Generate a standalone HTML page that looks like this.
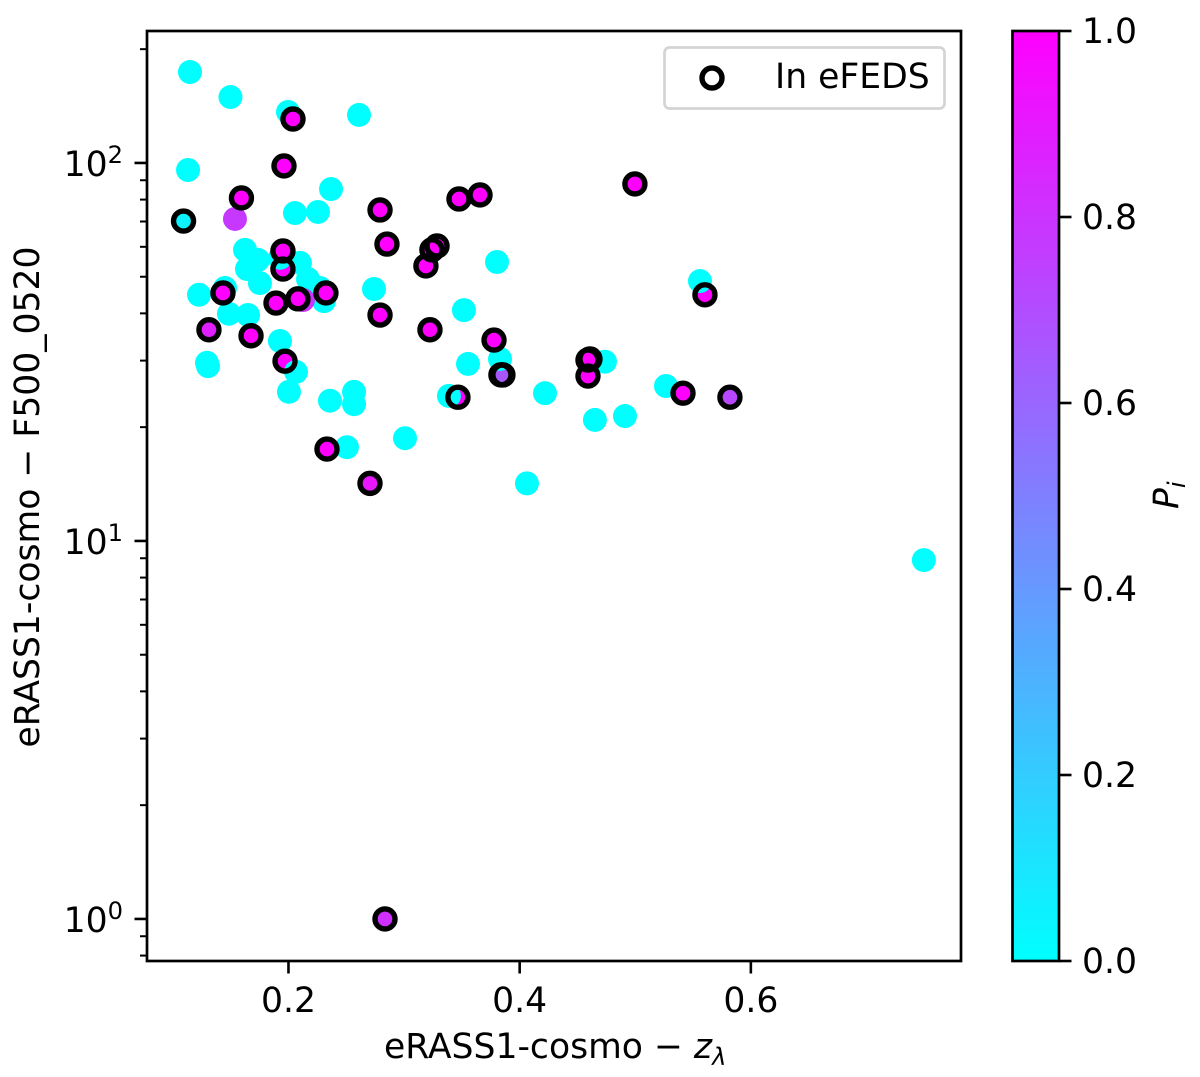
<!DOCTYPE html>
<html>
<head>
<meta charset="utf-8">
<title>eRASS1-cosmo scatter</title>
<style>
html,body{margin:0;padding:0;background:#fff;}
svg{display:block;}
text{font-family:"DejaVu Sans","Liberation Sans",sans-serif;fill:#000;}
</style>
</head>
<body>
<svg id="chart" xmlns="http://www.w3.org/2000/svg" width="1200" height="1077" viewBox="0 0 1200 1077">
  <defs>
    <linearGradient id="cool-gradient" x1="0" y1="1" x2="0" y2="0">
      <stop offset="0" stop-color="#00ffff"/>
      <stop offset="1" stop-color="#ff00ff"/>
    </linearGradient>
    <clipPath id="plot-clip"><rect x="147" y="31" width="814" height="930"/></clipPath>
  </defs>
  <rect x="0" y="0" width="1200" height="1077" fill="#fff"/>
  <g id="points" clip-path="url(#plot-clip)"></g>
  <g id="rings" clip-path="url(#plot-clip)"></g>
  <g id="x-ticks"></g>
  <g id="y-ticks"></g>
  <rect x="147" y="31" width="814" height="930" fill="none" stroke="#000" stroke-width="2.7"/>

  <g>
    <rect x="664.5" y="47.5" width="280" height="61" rx="5" ry="5" fill="#fff" stroke="#d4d4d4" stroke-width="2.7"/>
    <circle cx="712" cy="78" r="10" fill="none" stroke="#000" stroke-width="5.4"/>
    <text x="775" y="88" font-size="34.6">In eFEDS</text>
  </g>

  <text x="384" y="1058" font-size="34.6">eRASS1-cosmo − <tspan font-style="italic">z</tspan><tspan font-style="italic" font-size="24.2" dy="7">λ</tspan></text>
  <text transform="translate(39,497) rotate(-90)" text-anchor="middle" font-size="34.6">eRASS1-cosmo − F500_0520</text>

  <rect x="1012.5" y="31" width="46.5" height="930" fill="url(#cool-gradient)" stroke="#000" stroke-width="2.7"/>
  <g id="cbar-ticks"></g>
  <text transform="translate(1178,509) rotate(-90)" font-size="34.6"><tspan font-style="italic">P</tspan><tspan font-style="italic" font-size="24.2" dy="7">i</tspan></text>
</svg>
<script>
// eRASS1-cosmo redshift, F500_0520 flux, membership probability, eFEDS flag (data order = draw order)
var zValues = [
  0.1148,0.1498,0.1996,0.261,0.1131,0.2368,0.2056,0.2255,0.1624,0.1736,0.1641,0.1753,0.2099,0.2169,0.2272,0.2307,
  0.1226,0.1451,0.1485,0.165,0.1926,0.2004,0.1295,0.1304,0.2359,0.2567,0.2567,0.2506,0.3008,0.274,0.3804,0.3518,
  0.3553,0.4219,0.4651,0.4911,0.4738,0.5266,0.4063,0.7497,0.1537,0.2125,
  0.2039,0.1961,0.1593,0.1092,0.2792,0.2852,0.1952,0.1433,0.1892,0.2082,0.2324,0.1312,0.1676,0.197,0.2333,
  0.2705,0.2792,0.3224,0.3189,0.3241,0.3285,0.3475,0.3657,0.4997,0.5603,0.3778,0.3838,0.3855,0.3466,0.4591,0.4608,
  0.4591,0.5413,0.5819,0.2835,
  0.2065,0.1926,0.383,0.3388,0.556,
  0.1952
];
var fluxValues = [
  174,149.4,136.4,134,95.8,85.3,73.7,74.2,58.9,55.4,52.4,48.1,54.4,49.3,46.7,43.1,
  44.8,46.7,39.9,39.6,33.8,24.8,29.6,29,23.5,24.8,23,17.7,18.7,46.4,54.7,40.8,
  29.4,24.6,20.9,21.4,29.8,25.7,14.2,8.9,71.1,43.4,
  130.7,98.2,80.8,70.2,75.1,61,52.4,45.3,42.6,43.7,45.3,36.2,34.9,29.9,17.5,
  14.2,39.6,36.2,53.4,58.9,60.3,80.3,82.3,88,44.8,34,27.5,27.5,24,30.1,30.3,
  27.3,24.6,24,1,
  28,56.1,30.3,24.2,48.7,
  58.5
];
var probValues = [
  0,0,0,0,0,0,0,0,0,0,0,0,0,0,0,0,
  0,0,0,0,0,0,0,0,0,0,0,0,0,0,0,0,
  0,0,0,0,0,0,0,0,0.78,0.8,
  1,1,1,0.05,1,1,1,1,1,1,1,0.88,1,1,1,
  0.91,1,1,1,1,1,1,1,1,1,1,0.66,0.66,1,1,1,
  1,1,0.72,0.81,
  0,0,0,0,0,
  1
];
var efedsFlags = [
  0,0,0,0,0,0,0,0,0,0,0,0,0,0,0,0,
  0,0,0,0,0,0,0,0,0,0,0,0,0,0,0,0,
  0,0,0,0,0,0,0,0,0,0,
  1,1,1,1,1,1,1,1,1,1,1,1,1,1,1,
  1,1,1,1,1,1,1,1,1,1,1,1,1,1,1,1,
  1,1,1,1,
  0,0,0,0,0,
  1
];
var xTickValues = [0.2,0.4,0.6];
var xTickLabels = ["0.2","0.4","0.6"];
var yMajorExponents = [0,1,2];
var yMajorLabels = ["10","10","10"];
var yMinorValues = [0.8,0.9,2,3,4,5,6,7,8,9,20,30,40,50,60,70,80,90,200];
var cbarTickValues = [0,0.2,0.4,0.6,0.8,1];
var cbarTickLabels = ["0.0","0.2","0.4","0.6","0.8","1.0"];

var xDomain = [0.0776,0.7818];
var yDomain = [0.774,223.4];
var plotLeft = 147, plotRight = 961, plotTop = 31, plotBottom = 961;
var cbarRight = 1059;
var NS = "http://www.w3.org/2000/svg";

function xScale(v){
  return plotLeft + (v - xDomain[0]) / (xDomain[1] - xDomain[0]) * (plotRight - plotLeft);
}
function yScale(v){
  var lo = Math.log10(yDomain[0]), hi = Math.log10(yDomain[1]);
  return plotBottom - (Math.log10(v) - lo) / (hi - lo) * (plotBottom - plotTop);
}
function cbarScale(v){
  return plotBottom - v * (plotBottom - plotTop);
}
function coolColor(p){
  var r = Math.round(p * 255), g = 255 - r;
  return "rgb(" + r + "," + g + ",255)";
}
function make(tag, parent){
  var el = document.createElementNS(NS, tag);
  parent.appendChild(el);
  return el;
}
function tickLine(parent, x1, y1, x2, y2, w){
  var l = make("line", parent);
  l.setAttribute("x1", x1);
  l.setAttribute("y1", y1);
  l.setAttribute("x2", x2);
  l.setAttribute("y2", y2);
  l.setAttribute("stroke", "#000");
  l.setAttribute("stroke-width", w);
  return l;
}

var pointsG = document.getElementById("points");
var ringsG = document.getElementById("rings");
zValues.forEach(function(z, i){
  var c = make("circle", pointsG);
  
  
  c.setAttribute("cx", xScale(z).toFixed(2));
  c.setAttribute("cy", yScale(fluxValues[i]).toFixed(2));
  c.setAttribute("r", "12");
  c.setAttribute("fill", coolColor(probValues[i]));
});
zValues.forEach(function(z, i){
  if (!efedsFlags[i]) return;
  var r = make("circle", ringsG);
  
  
  r.setAttribute("cx", xScale(z).toFixed(2));
  r.setAttribute("cy", yScale(fluxValues[i]).toFixed(2));
  r.setAttribute("r", "10");
  r.setAttribute("fill", "none");
  r.setAttribute("stroke", "#000");
  r.setAttribute("stroke-width", "5.4");
});

var xTicksG = document.getElementById("x-ticks");
xTickValues.forEach(function(v, i){
  var px = xScale(v);
  var l = tickLine(xTicksG, px, plotBottom, px, plotBottom + 12.5, 2.6);
  
  
  var t = make("text", xTicksG);
  
  
  t.setAttribute("x", px);
  t.setAttribute("y", 1012);
  t.setAttribute("text-anchor", "middle");
  t.setAttribute("font-size", "34.6");
  t.textContent = xTickLabels[i];
});

var yTicksG = document.getElementById("y-ticks");
yMajorExponents.forEach(function(e, i){
  var py = yScale(Math.pow(10, e));
  var l = tickLine(yTicksG, plotLeft - 12.5, py, plotLeft, py, 2.6);
  
  
  var t = make("text", yTicksG);
  
  
  t.setAttribute("x", 123);
  t.setAttribute("y", py + 13);
  t.setAttribute("text-anchor", "end");
  t.setAttribute("font-size", "34.6");
  t.appendChild(document.createTextNode(yMajorLabels[i]));
  var s = make("tspan", t);
  s.setAttribute("font-size", "24.2");
  s.setAttribute("dy", "-13");
  s.textContent = String(e);
});
yMinorValues.forEach(function(v){
  var py = yScale(v);
  var l = tickLine(yTicksG, plotLeft - 7, py, plotLeft, py, 2);
  
  
});

var cbarG = document.getElementById("cbar-ticks");
cbarTickValues.forEach(function(v, i){
  var py = cbarScale(v);
  var l = tickLine(cbarG, cbarRight, py, cbarRight + 12.5, py, 2.6);
  
  
  var t = make("text", cbarG);
  
  
  t.setAttribute("x", 1082);
  t.setAttribute("y", py + 12);
  t.setAttribute("font-size", "34.6");
  t.textContent = cbarTickLabels[i];
});
</script>
</body>
</html>
